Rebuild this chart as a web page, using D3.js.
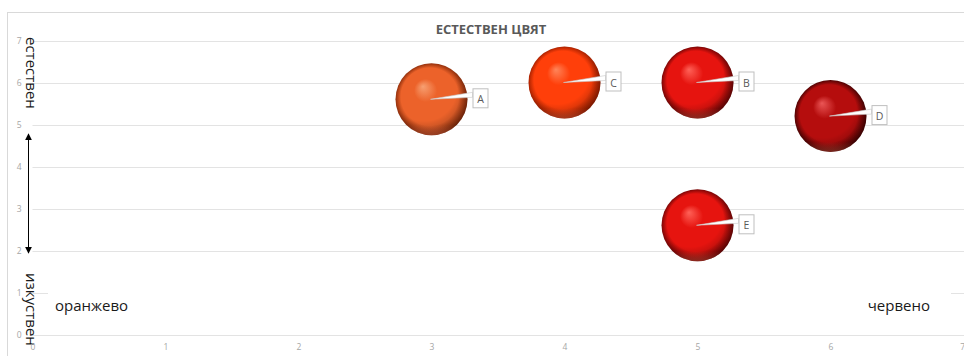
<!DOCTYPE html>
<html>
<head>
<meta charset="utf-8">
<script src="https://cdn.jsdelivr.net/npm/d3@7"></script>
<style>
  html, body { margin: 0; padding: 0; background: #fff; }
  svg { display: block; }
</style>
</head>
<body>
<svg id="chart" width="964" height="356"></svg>
<script>
// Bubble data: colour position (x), naturalness (y), bubble size
const names   = ["A", "B", "C", "D", "E"];
const xValues = [3, 5, 4, 6, 5];
const yValues = [5.6, 6.0, 6.0, 5.2, 2.6];
const sizes   = [1, 1, 1, 1, 1];

const xTicks = [0, 1, 2, 3, 4, 5, 6, 7];
const yTicks = [0, 1, 2, 3, 4, 5, 6, 7];

const title = "ЕСТЕСТВЕН ЦВЯТ";
const yTopLabel = "естествен";
const yBottomLabel = "изкуствен";
const xLeftLabel = "оранжево";
const xRightLabel = "червено";

// sphere shading per bubble: highlight, body, shadow
const palettes = [
  ["#f7a072", "#ec622a", "#93300c"],
  ["#ff6258", "#e6140f", "#7a0606"],
  ["#ff855a", "#ff3f0a", "#aa2200"],
  ["#ea5656", "#b50d0d", "#500303"],
  ["#ff6258", "#e6140f", "#7a0606"]
];

const svg = d3.select("#chart");
const font = "'Open Sans', 'Noto Sans', sans-serif";

const x = d3.scaleLinear().domain([0, 7]).range([32.5, 963.5]);
const y = d3.scaleLinear().domain([0, 7]).range([334.5, 40.5]);
const r = d3.scaleSqrt().domain([0, d3.max(sizes)]).range([0, 36]);

// chart frame
svg.append("rect")
  .attr("x", 7.5).attr("y", 12.5)
  .attr("width", 980).attr("height", 360)
  .attr("fill", "#fff").attr("stroke", "#d9d9d9");

// horizontal gridlines
svg.append("g").selectAll("line").data(yTicks).join("line")
  .attr("x1", x(0)).attr("x2", 964)
  .attr("y1", d => Math.round(y(d)) + 0.5).attr("y2", d => Math.round(y(d)) + 0.5)
  .attr("stroke", "#e3e3e3").attr("stroke-width", 1);

// vertical axis end labels (drawn beneath the tick numbers)
svg.append("text")
  .attr("transform", "translate(25.5,37) rotate(90)")
  .style("font-family", font).style("font-size", "15px")
  .attr("fill", "#1a1a1a")
  .text(yTopLabel);
svg.append("text")
  .attr("transform", "translate(25.5,273) rotate(90)")
  .style("font-family", font).style("font-size", "15px")
  .attr("fill", "#1a1a1a")
  .text(yBottomLabel);

// axes (labels only)
const xAxis = svg.append("g")
  .attr("transform", `translate(0,${y(0)})`)
  .call(d3.axisBottom(x).tickValues(xTicks).tickSize(0).tickPadding(9).tickFormat(d3.format("d")));
const yAxis = svg.append("g")
  .attr("transform", `translate(${x(0)},0)`)
  .call(d3.axisLeft(y).tickValues(yTicks).tickSize(0).tickPadding(11).tickFormat(d3.format("d")));
[xAxis, yAxis].forEach(g => {
  g.select(".domain").remove();
  g.selectAll("text").attr("fill", "#a6a6a6").style("font-family", font).style("font-size", "8.5px");
});
// last x label sits against the right edge
xAxis.selectAll(".tick").filter(d => d === 7).select("text").attr("text-anchor", "end").attr("dx", 1);

// title
svg.append("text")
  .attr("x", 491).attr("y", 34)
  .attr("text-anchor", "middle")
  .style("font-family", font).style("font-size", "13px").style("font-weight", "bold")
  .attr("fill", "#595959")
  .text(title);

// text boxes for the colour-scale ends (white fill hides the gridline behind)
svg.append("rect").attr("x", 48).attr("y", 286).attr("width", 452).attr("height", 32).attr("fill", "#fff");
svg.append("rect").attr("x", 500).attr("y", 286).attr("width", 451).attr("height", 32).attr("fill", "#fff");
svg.append("text")
  .attr("x", 55).attr("y", 311)
  .style("font-family", font).style("font-size", "15px")
  .attr("fill", "#1a1a1a")
  .text(xLeftLabel);
svg.append("text")
  .attr("x", 930).attr("y", 311)
  .attr("text-anchor", "end")
  .style("font-family", font).style("font-size", "15px")
  .attr("fill", "#1a1a1a")
  .text(xRightLabel);

// double-headed arrow between the two ends
const defs = svg.append("defs");
defs.append("marker")
  .attr("id", "arrowhead")
  .attr("viewBox", "0 0 10 10")
  .attr("refX", 9).attr("refY", 5)
  .attr("markerWidth", 7).attr("markerHeight", 7)
  .attr("markerUnits", "userSpaceOnUse")
  .attr("orient", "auto-start-reverse")
  .append("path").attr("d", "M0,0 L10,5 L0,10 Z").attr("fill", "#000");
svg.append("line")
  .attr("x1", 28.5).attr("x2", 28.5)
  .attr("y1", 134).attr("y2", 253)
  .attr("stroke", "#000").attr("stroke-width", 1)
  .attr("marker-start", "url(#arrowhead)")
  .attr("marker-end", "url(#arrowhead)");

// sphere gradients
palettes.forEach((p, i) => {
  const g = defs.append("radialGradient")
    .attr("id", "sphere" + i)
    .attr("cx", "50%").attr("cy", "50%").attr("r", "50%")
    .attr("fx", "38%").attr("fy", "32%");
  g.append("stop").attr("offset", "0%").attr("stop-color", p[0]);
  g.append("stop").attr("offset", "32%").attr("stop-color", p[1]);
  g.append("stop").attr("offset", "80%").attr("stop-color", p[1]);
  g.append("stop").attr("offset", "100%").attr("stop-color", p[2]);
});
// soft darkening toward the lower right
const shade = defs.append("radialGradient")
  .attr("id", "shade").attr("cx", "40%").attr("cy", "35%").attr("r", "75%");
shade.append("stop").attr("offset", "60%").attr("stop-color", "#000").attr("stop-opacity", 0);
shade.append("stop").attr("offset", "100%").attr("stop-color", "#000").attr("stop-opacity", 0.4);
// faint reflected rim along the bottom
const rim = defs.append("linearGradient")
  .attr("id", "rim").attr("x1", 0).attr("y1", 0).attr("x2", 0).attr("y2", 1);
rim.append("stop").attr("offset", "86%").attr("stop-color", "#ff8060").attr("stop-opacity", 0);
rim.append("stop").attr("offset", "100%").attr("stop-color", "#ff8060").attr("stop-opacity", 0.3);

const data = names.map((n, i) => ({ name: n, x: xValues[i], y: yValues[i], size: sizes[i], i }));

const bubbles = svg.append("g").selectAll("g").data(data).join("g")
  .attr("transform", d => `translate(${x(d.x)},${y(d.y)})`);
bubbles.append("circle").attr("r", d => r(d.size)).attr("fill", d => `url(#sphere${d.i})`);
bubbles.append("circle").attr("r", d => r(d.size)).attr("fill", "url(#shade)");
bubbles.append("circle").attr("r", d => r(d.size)).attr("fill", "url(#rim)");

// callout labels with leader wedge from the bubble centre
const labels = svg.append("g").selectAll("g").data(data).join("g")
  .attr("transform", d => `translate(${x(d.x)},${y(d.y)})`);
labels.append("path")
  .attr("d", d => { const bx = r(d.size) + 5; return `M-1,0 L${bx},-7 L${bx},-2 Z`; })
  .attr("fill", "#fff").attr("stroke", "#c8c8c8").attr("stroke-width", 0.6);
labels.append("rect")
  .attr("x", d => r(d.size) + 5.5).attr("y", -10.5)
  .attr("width", 15).attr("height", 19)
  .attr("fill", "#fff").attr("stroke", "#bfbfbf").attr("stroke-width", 1);
labels.append("text")
  .attr("x", d => r(d.size) + 13).attr("y", 4)
  .attr("text-anchor", "middle")
  .style("font-family", font).style("font-size", "10.5px")
  .attr("fill", "#595959")
  .text(d => d.name);
</script>
</body>
</html>
